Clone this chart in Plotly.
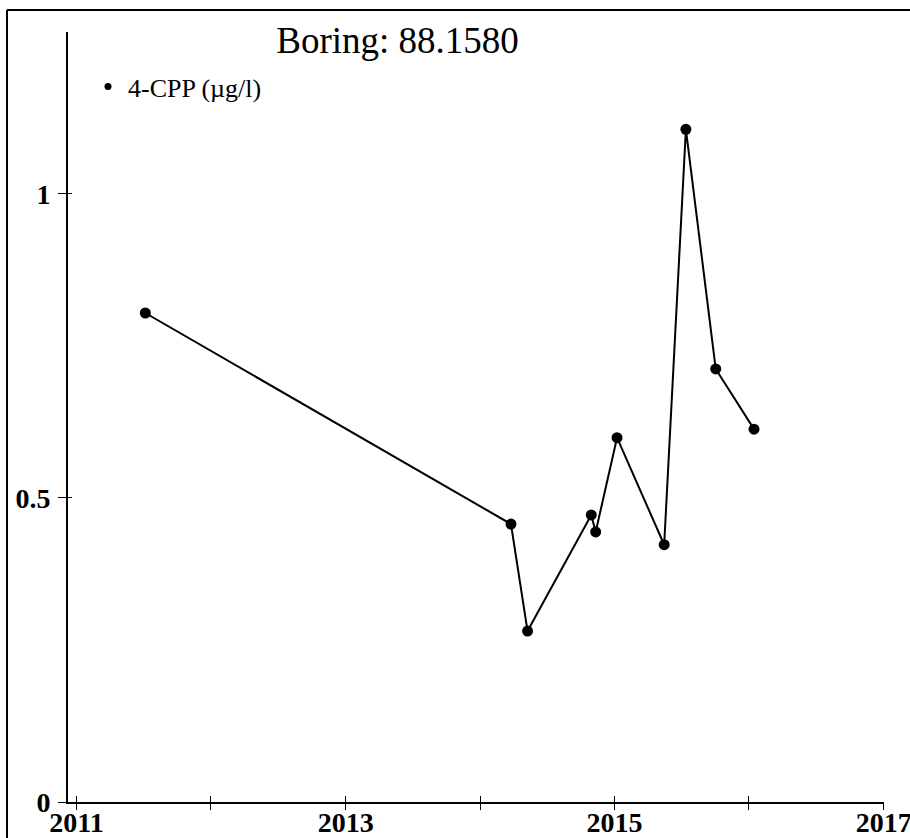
import plotly.graph_objects as go

# Data
dates = ["2011-07-07", "2014-03-26", "2014-05-10", "2014-10-30", "2014-11-11",
         "2015-01-08", "2015-05-16", "2015-07-14", "2015-10-03", "2016-01-15"]
values = [0.804, 0.457, 0.281, 0.472, 0.444, 0.599, 0.423, 1.106, 0.712, 0.613]
series_name = "4-CPP (µg/l)"
title_text = "Boring: 88.1580"
year_ticks = ["2011-01-01", "2012-01-01", "2013-01-01", "2014-01-01",
              "2015-01-01", "2016-01-01", "2017-01-01"]
year_labels = ["2011", "", "2013", "", "2015", "", "2017"]
y_ticks = [0, 0.5, 1]
y_labels = ["0", "0.5", "1"]

FONT = "Liberation Serif"
xrange_ = ["2010-12-09", "2017-01-02"]

fig = go.Figure()
fig.add_trace(go.Scatter(
    x=dates, y=values, mode="lines+markers",
    line=dict(color="black", width=2),
    marker=dict(color="black", size=11),
    showlegend=False, hoverinfo="x+y",
))
fig.add_trace(go.Scatter(
    x=[None], y=[None], mode="markers", name=series_name,
    marker=dict(color="black", size=7), showlegend=True,
))
fig.add_trace(go.Scatter(x=[None], y=[None], xaxis="x2", yaxis="y2", showlegend=False))

fig.update_layout(
    width=910, height=838,
    margin=dict(l=68, r=26, t=32, b=36, autoexpand=False),
    paper_bgcolor="white", plot_bgcolor="white",
    font=dict(family=FONT, color="black"),
    title=dict(text=title_text, x=397.5 / 910, xanchor="center",
               y=1 - 40 / 838, yanchor="middle",
               font=dict(family=FONT, size=37, color="black")),
    xaxis=dict(type="date", range=xrange_, tickvals=year_ticks, ticktext=year_labels,
               showgrid=False, zeroline=False, showline=True, linecolor="black", linewidth=2,
               ticks="outside", ticklen=6, tickwidth=1, tickcolor="black",
               tickfont=dict(family=FONT, size=28, color="black", weight="bold"),
               ticklabelstandoff=-12, ticklabeloverflow="allow",
               automargin=False, fixedrange=True),
    yaxis=dict(range=[0, 1.266], tickvals=y_ticks, ticktext=y_labels,
               showgrid=False, zeroline=False, showline=True, linecolor="black", linewidth=2,
               ticks="outside", ticklen=8, tickwidth=1, tickcolor="black",
               tickfont=dict(family=FONT, size=28, color="black", weight="bold"),
               ticklabelstandoff=2, ticklabeloverflow="allow",
               automargin=False, fixedrange=True),
    xaxis2=dict(type="date", range=xrange_, overlaying="x", tickvals=year_ticks,
                showticklabels=False, showgrid=False, zeroline=False, showline=False,
                ticks="inside", ticklen=6, tickwidth=1, tickcolor="black", side="bottom",
                automargin=False),
    yaxis2=dict(range=[0, 1.266], overlaying="y", tickvals=y_ticks,
                showticklabels=False, showgrid=False, zeroline=False, showline=False,
                ticks="inside", ticklen=4, tickwidth=1, tickcolor="black", side="left",
                automargin=False),
    legend=dict(x=(88 - 68) / 816, y=(802 - 63) / 770, xanchor="left", yanchor="top",
                bgcolor="rgba(0,0,0,0)", font=dict(family=FONT, size=26, color="black"),
                itemwidth=30, tracegroupgap=0),
    shapes=[
        dict(type="line", xref="paper", yref="paper",
             x0=(7 - 68) / 816, x1=(7 - 68) / 816, y0=-0.2, y1=(802 - 10) / 770,
             line=dict(color="black", width=2), layer="below"),
        dict(type="line", xref="paper", yref="paper",
             x0=(7 - 68) / 816, x1=1.2, y0=(802 - 10) / 770, y1=(802 - 10) / 770,
             line=dict(color="black", width=2), layer="below"),
    ],
)

fig.write_html("out.html")
